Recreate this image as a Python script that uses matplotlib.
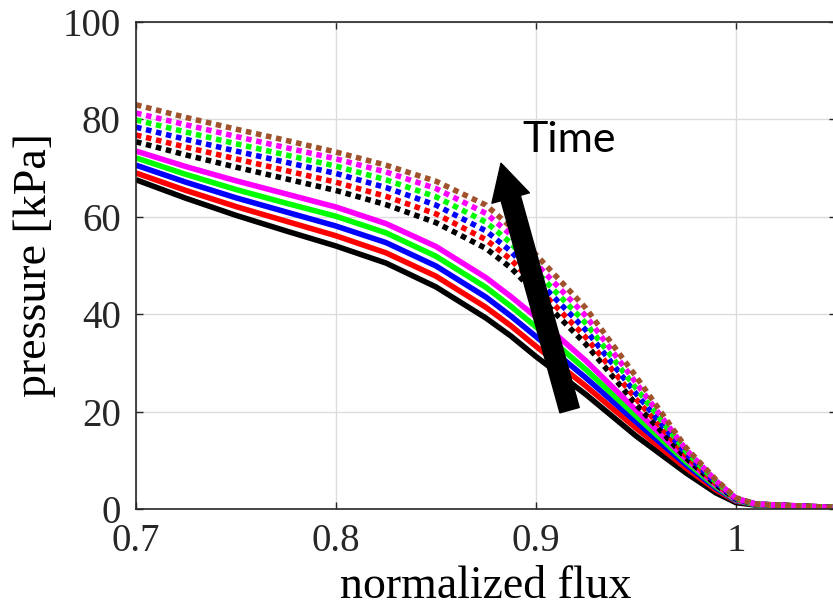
import matplotlib
matplotlib.use("Agg")
import matplotlib.pyplot as plt
from matplotlib.patches import FancyArrowPatch

plt.rcParams['font.family'] = ['Liberation Serif', 'DejaVu Serif']

# sample positions along the normalized flux axis
flux = [0.7, 0.725, 0.75, 0.775, 0.8, 0.825, 0.85, 0.875, 0.8875, 0.9, 0.925, 0.95,
        0.975, 0.99, 1.0, 1.01, 1.05]

# solid curves (earlier times), bottom to top
solid_black = [67.6, 63.8, 60.3, 57.1, 54.0, 50.5, 45.6, 39.2, 35.5, 31.3, 23.5, 15.0, 7.4, 3.3, 1.3, 0.8, 0.3]
solid_red = [69.0, 65.4, 62.1, 59.1, 56.1, 52.6, 47.8, 41.4, 37.6, 33.4, 25.2, 16.6, 8.4, 3.9, 1.6, 0.9, 0.3]
solid_blue = [70.6, 67.1, 63.9, 61.0, 58.1, 54.7, 49.9, 43.5, 39.6, 35.4, 26.9, 17.9, 9.1, 4.3, 1.7, 0.9, 0.3]
solid_green = [72.1, 68.7, 65.6, 62.8, 60.1, 56.7, 51.9, 45.5, 41.6, 37.4, 28.6, 19.1, 9.7, 4.6, 1.8, 0.9, 0.3]
solid_magenta = [73.5, 70.3, 67.4, 64.7, 62.0, 58.6, 53.9, 47.5, 43.6, 39.4, 30.4, 20.3, 10.3, 4.9, 1.9, 1.0, 0.3]

# dotted curves (later times), bottom to top
dot_black = [75.4, 72.7, 70.2, 67.8, 65.4, 62.5, 58.8, 53.5, 49.5, 44.2, 33.8, 21.5, 10.5, 5.0, 2.0, 1.0, 0.3]
dot_red = [76.8, 74.3, 71.9, 69.5, 67.1, 64.2, 60.6, 55.3, 51.2, 45.8, 35.2, 22.6, 11.0, 5.2, 2.1, 1.0, 0.3]
dot_blue = [78.4, 75.9, 73.5, 71.2, 68.9, 66.0, 62.4, 57.1, 52.9, 47.3, 36.7, 23.7, 11.4, 5.4, 2.1, 1.0, 0.3]
dot_green = [79.9, 77.4, 75.0, 72.7, 70.4, 67.6, 64.1, 58.9, 54.6, 48.8, 38.1, 24.8, 11.8, 5.6, 2.2, 1.0, 0.3]
dot_magenta = [81.3, 78.9, 76.5, 74.2, 71.9, 69.2, 65.8, 60.7, 56.3, 50.4, 39.6, 25.9, 12.2, 5.8, 2.2, 1.0, 0.3]
dot_brown = [83.0, 80.4, 78.0, 75.7, 73.3, 70.6, 67.3, 62.4, 57.9, 52.2, 41.2, 27.2, 12.6, 6.0, 2.3, 1.0, 0.3]

solid_curves = [solid_black, solid_red, solid_blue, solid_green, solid_magenta]
solid_colors = ['black', '#ff0000', '#0000ff', '#00ff00', '#ff00ff']
dot_curves = [dot_black, dot_red, dot_blue, dot_green, dot_magenta, dot_brown]
dot_colors = ['black', '#ff0000', '#0000ff', '#00ff00', '#ff00ff', '#a0522d']

x_ticks = [0.7, 0.8, 0.9, 1.0]
x_tick_labels = ['0.7', '0.8', '0.9', '1']
y_ticks = [0, 20, 40, 60, 80, 100]

fig = plt.figure(figsize=(8.33, 6.16), dpi=100)
ax = fig.add_axes([136 / 833, 107 / 616, 700 / 833, 487 / 616])

for ys, c in zip(solid_curves, solid_colors):
    ax.plot(flux, ys, color=c, lw=4.0, solid_capstyle='butt', solid_joinstyle='round')
for ys, c in zip(dot_curves, dot_colors):
    ax.plot(flux, ys, color=c, lw=4.0, linestyle=(0, (1, 0.85)), dash_capstyle='butt')

ax.set_xlim(0.7, 1.05)
ax.set_ylim(0, 100)
ax.set_xticks(x_ticks)
ax.set_xticklabels(x_tick_labels)
ax.set_yticks(y_ticks)
ax.grid(True, color='#dcdcdc', lw=1.0)
ax.set_axisbelow(True)
ax.tick_params(direction='in', length=5, width=1, top=True, right=True, colors='#262626')
ax.tick_params(axis='x', labelsize=28, pad=10)
ax.tick_params(axis='y', labelsize=28, pad=11)
for s in ax.spines.values():
    s.set_color('#262626')
    s.set_linewidth(1.2)

ax.set_xlabel('normalized flux', fontsize=33)
ax.xaxis.set_label_coords(0.5, -0.115)
ax.set_ylabel('pressure [kPa]', fontsize=33)
ax.yaxis.set_label_coords(-0.114, 0.5)

# time arrow and label
arrow = FancyArrowPatch((0.9168, 20.3), (0.8825, 71.0),
                        arrowstyle='simple,head_length=0.65,head_width=0.7,tail_width=0.36',
                        mutation_scale=40, color='black', shrinkA=0, shrinkB=0, zorder=5)
ax.add_patch(arrow)
ax.text(0.893, 73.4, 'Time', fontsize=31, family=['Lato', 'DejaVu Sans'],
        ha='left', va='baseline', zorder=6)

fig.savefig('out.png', dpi=100)
